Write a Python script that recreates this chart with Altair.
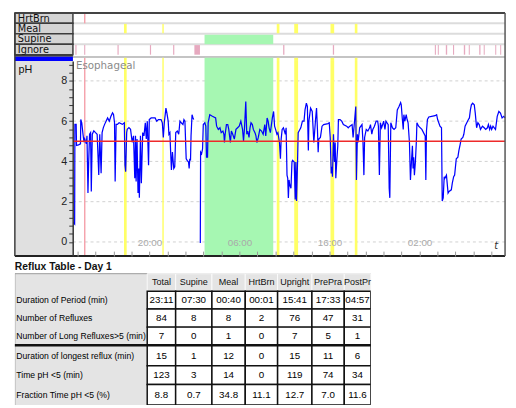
import altair as alt
import pandas as pd

# ---------------- data ----------------
# oesophageal pH trace: time in hours after 12:00 of the first day, pH value
PH_T = [
    -0.47, -0.31, -0.28, -0.14, -0.10, 0.12, 0.34, 0.37, 0.48, 0.62,
    0.73, 0.81, 0.99, 1.06, 1.17, 1.25, 1.35, 1.46, 1.54, 1.65,
    1.82, 2.01, 2.19, 2.37, 2.48, 2.63, 2.74, 2.88, 3.02, 3.18,
    3.35, 3.54, 3.72, 3.90, 4.01, 4.12, 4.19, 4.30, 4.44, 4.63,
    4.99, 5.21, 5.28, 5.36, 5.47, 5.53, 5.72, 5.90, 6.08, 6.23,
    6.37, 6.45, 6.52, 6.62, 6.73, 6.81, 6.88, 7.00, 7.10, 7.25,
    7.39, 7.54, 7.65, 7.76, 7.90, 7.98, 8.19, 8.63, 8.81, 8.99,
    9.29, 9.43, 9.54, 9.65, 9.83, 9.94, 10.08, 10.16, 10.27, 10.37,
    10.44, 10.55, 10.70, 10.81, 10.92, 11.10, 11.25, 11.39, 11.53, 11.72,
    11.83, 11.94, 12.08, 12.19, 12.34, 12.41, 12.48, 12.56, 12.62, 12.73,
    12.84, 12.92, 13.65, 13.68, 13.79, 13.90, 13.98, 14.15, 14.26, 14.34,
    14.45, 14.52, 14.70, 14.99, 15.35, 15.46, 15.65, 15.83, 15.97, 16.16,
    16.27, 16.33, 16.41, 16.55, 16.70, 16.81, 16.99, 17.10, 17.25, 17.43,
    17.61, 17.79, 17.97, 18.15, 18.34, 18.45, 18.56, 18.70, 18.81, 18.92,
    19.06, 19.17, 19.28, 19.43, 19.54, 19.72, 19.83, 19.93, 20.09, 20.26,
    20.45, 20.63, 20.81, 20.92, 21.07, 21.18, 21.29, 21.43, 21.65, 21.79,
    21.90, 22.01, 22.16, 22.27, 22.44, 22.55, 22.63, 22.74, 22.88, 23.10,
    23.18, 23.28, 23.36, 23.43, 23.51, 23.58, 23.72, 23.83, 23.90, 24.08,
    24.19, 24.26, 24.34, 24.45, 24.52, 24.62, 24.81, 24.99, 25.17, 25.28,
    25.43, 25.54, 25.65, 25.71, 25.90, 26.08, 26.26, 26.45, 26.56, 26.66,
    26.74, 26.81, 26.99, 27.17, 27.35, 27.83, 27.97, 28.08, 28.19, 28.27,
    28.33, 28.44, 28.55, 28.63, 28.70, 28.81, 28.92, 28.99, 29.17, 29.36,
    29.54, 29.90, 30.08, 30.26, 30.51, 30.62, 30.73, 30.92, 30.99, 31.10,
    31.17, 31.35, 31.61, 31.72, 31.82, 31.90, 32.08, 32.26, 32.45, 32.55,
    32.70, 32.81, 32.99, 33.18, 33.35, 33.43, 33.54, 33.65, 33.79, 33.90,
    34.01, 34.16, 34.27, 34.52, 34.63, 34.70, 34.81, 34.99, 35.17, 35.36,
    35.53, 35.72, 35.90, 35.97, 36.08, 36.19, 36.26, 36.37, 36.52, 36.62,
    36.73, 36.88, 36.99, 37.10, 37.21, 37.28, 37.35, 37.43, 37.54, 37.65,
    37.71, 37.90, 38.26, 38.63, 38.70, 38.77, 38.88, 39.03, 39.35, 39.72,
    39.90, 40.01, 40.27, 40.44, 40.52, 40.63, 40.74, 40.81, 40.99, 41.17,
    41.28, 41.53, 41.64, 41.79, 41.90, 42.08, 42.26, 42.37, 42.52, 42.62,
    42.81, 42.92, 43.06, 43.25, 43.43, 43.54, 43.65, 43.76, 43.90, 44.08,
    44.19, 44.34, 44.48, 44.63, 44.77, 44.99, 45.18, 45.35, 45.54, 45.65,
    45.79, 45.90, 46.01, 46.16, 46.30, 46.44, 46.63, 46.81, 46.99, 47.17,
    47.36, 47.50,
]
PH_V = [
    0.97, 0.89, 5.84, 5.84, 4.79, 4.82, 4.87, 6.08, 5.92, 5.35,
    4.95, 5.11, 4.87, 5.27, 2.43, 3.97, 5.35, 5.43, 2.51, 5.35,
    5.52, 5.43, 5.35, 3.33, 5.35, 3.41, 5.43, 5.68, 5.84, 6.00,
    6.16, 6.00, 6.24, 6.41, 6.33, 5.92, 3.00, 5.84, 5.84, 5.92,
    5.84, 5.92, 3.81, 3.49, 5.43, 5.60, 5.68, 5.60, 4.95, 5.27,
    3.16, 5.27, 3.00, 5.11, 2.43, 3.65, 2.19, 5.27, 2.92, 5.43,
    5.27, 5.92, 5.11, 6.00, 3.81, 6.08, 6.16, 6.16, 6.00, 6.08,
    6.08, 5.92, 5.19, 5.92, 6.65, 6.40, 6.00, 5.35, 5.43, 4.29,
    3.57, 4.46, 3.65, 3.73, 5.43, 5.51, 5.35, 6.00, 5.92, 5.83,
    6.08, 6.00, 4.13, 4.05, 3.97, 3.65, 4.13, 4.05, 5.27, 6.32,
    6.16, 6.08, -0.05, 4.46, 4.38, 4.62, 5.83, 5.92, 5.75, 4.21,
    4.21, 5.92, 6.32, 6.24, 6.16, 5.75, 5.59, 5.67, 5.43, 5.51,
    5.35, 4.94, 5.35, 5.83, 5.83, 5.59, 4.94, 5.51, 5.35, 5.11,
    5.59, 5.67, 5.75, 6.00, 5.59, 5.02, 5.67, 6.97, 5.35, 5.51,
    5.19, 5.67, 5.92, 5.83, 5.59, 5.43, 5.27, 4.94, 5.19, 5.59,
    5.51, 5.35, 5.83, 5.27, 6.16, 6.00, 5.67, 5.43, 6.16, 6.48,
    5.75, 5.59, 5.35, 5.43, 4.94, 4.13, 5.11, 5.59, 5.67, 5.35,
    5.67, 3.32, 3.16, 2.19, 3.08, 2.84, 2.67, 3.97, 4.05, 3.97,
    2.11, 3.97, 2.03, 3.97, 5.43, 5.51, 5.67, 6.00, 6.00, 6.56,
    6.89, 6.73, 4.54, 6.00, 6.65, 6.48, 4.94, 6.08, 6.65, 5.59,
    4.46, 5.11, 5.19, 5.75, 5.83, 5.88, 5.92, 5.19, 3.40, 3.73,
    3.24, 5.35, 3.97, 4.94, 3.16, 4.05, 4.78, 6.08, 6.08, 6.00,
    5.83, 5.75, 5.67, 5.75, 5.83, 5.19, 5.75, 6.73, 3.08, 5.35,
    4.94, 5.67, 5.83, 4.94, 3.32, 5.19, 5.59, 5.51, 5.67, 5.83,
    5.35, 5.59, 5.75, 6.00, 6.00, 5.75, 3.32, 5.92, 5.67, 5.83,
    6.00, 5.59, 6.00, 5.83, 2.67, 2.19, 5.92, 5.67, 5.59, 5.67,
    6.56, 6.73, 6.92, 6.81, 6.16, 5.59, 6.32, 6.00, 6.32, 6.08,
    5.92, 4.94, 3.08, 3.97, 4.78, 3.65, 4.21, 3.32, 3.97, 5.02,
    5.92, 5.75, 5.59, 5.27, 3.08, 5.51, 6.08, 6.21, 6.24, 6.27,
    6.32, 6.08, 5.75, 5.67, 2.03, 2.19, 3.24, 3.16, 3.32, 2.43,
    2.51, 2.59, 2.92, 3.24, 3.32, 4.13, 4.21, 4.54, 4.86, 5.11,
    5.19, 5.35, 5.75, 5.92, 6.08, 6.16, 6.56, 6.81, 6.89, 6.81,
    6.40, 5.67, 5.92, 5.83, 5.59, 5.75, 5.67, 5.59, 5.67, 5.83,
    5.59, 5.75, 5.59, 5.75, 5.67, 5.59, 6.24, 6.48, 6.40, 6.16,
    6.24, 6.16,
]
TRACE_BREAK = 13.3          # recording interrupted (ignored period)

MEAL_START = [5.17, 9.43, 22.14, 24.08, 28.11, 30.81]
MEAL_END = [5.47, 9.59, 22.44, 24.51, 28.52, 31.10]
SUPINE_START = [14.12]
SUPINE_END = [21.75]
HRTBRN_T = [0.81]
IGNORE_START = [-0.23, 0.75, 4.45, 8.05, 10.63, 12.99, 22.85, 28.37, 39.70,
                40.03, 40.92, 41.72, 42.92, 43.47, 44.63, 45.13, 46.41, 46.96]
IGNORE_END = [-0.10, 0.87, 4.58, 8.18, 10.76, 13.61, 22.99, 28.51, 39.82,
              40.14, 41.07, 41.84, 43.07, 43.58, 44.77, 45.24, 46.52, 47.07]

TRACK_NAMES = ["HrtBrn", "Meal", "Supine", "Ignore"]
PH_TICKS = [round(0.4 * i, 1) for i in range(23)]
PH_GRID = [0, 2, 4, 6, 8]
REFLUX_LIMIT = 5
TIME_TICKS = list(range(0, 48, 2))

TABLE_TITLE = "Reflux Table - Day 1"
TABLE_COLS = ["Total", "Supine", "Meal", "HrtBrn", "Upright", "PrePra", "PostPr"]
TABLE_ROWS = ["Duration of Period (min)", "Number of Refluxes",
              "Number of Long Refluxes>5  (min)", "Duration of longest reflux (min)",
              "Time pH <5  (min)", "Fraction Time pH <5  (%)"]
ROW_DURATION = ["23:11", "07:30", "00:40", "00:01", "15:41", "17:33", "04:57"]
ROW_REFLUXES = ["84", "8", "8", "2", "76", "47", "31"]
ROW_LONG = ["7", "0", "1", "0", "7", "5", "1"]
ROW_LONGEST = ["15", "1", "12", "0", "15", "11", "6"]
ROW_TIME = ["123", "3", "14", "0", "119", "74", "34"]
ROW_FRACTION = ["8.8", "0.7", "34.8", "11.1", "12.7", "7.0", "11.6"]
TABLE_VALUES = [ROW_DURATION, ROW_REFLUXES, ROW_LONG, ROW_LONGEST, ROW_TIME, ROW_FRACTION]

# ---------------- layout / style ----------------
W = 500
H_TR, H_PH, H_TB = 49, 199, 152
X0, T0, T1 = -6.95, -0.5, 47.5          # label column, then 48 h of recording
GREEN, YELLOW, PINK, IGN = "#a6f7b2", "#ffff66", "#f5a3ad", "#e6a9bf"
LABEL_GRAY, COL_GRAY = "#d4d4d4", "#e0e0e0"
TFONT = "Liberation Sans Narrow, Arial Narrow, Liberation Sans, Arial, sans-serif"
COL_EDGES = [0, 135, 164, 201, 235, 268, 303, 336, 363]
ROW_EDGES = [18, 36, 54, 72.5, 91, 112, 131, 152]

xsc = alt.Scale(domain=[X0, T1], nice=False, zero=False)
ytr = alt.Scale(domain=[0, 4.6], reverse=True, nice=False, zero=False)
yph = alt.Scale(domain=[-0.70, 8.99], nice=False, zero=False)

y_axis = alt.Axis(orient="left", offset=-59, values=PH_TICKS,
                  labelExpr="datum.value % 2 == 0 ? format(datum.value, 'd') : ''",
                  tickSize=4, tickColor="#333", domainColor="#333", domainWidth=1.5,
                  labelFont="Liberation Sans", labelFontSize=11, labelColor="#222",
                  labelPadding=2, grid=False, title=None, zindex=1,
                  labelOverlap=False, labelFlush=False)
x_axis = alt.Axis(orient="top", offset=-H_PH, values=TIME_TICKS,
                  labelExpr="(datum.value - 8) % 10 == 0 ? (((datum.value + 12) % 24) < 10 ? '0' : '') + ((datum.value + 12) % 24) + ':00' : ''",
                  tickSize=5, tickColor="#999", domain=False, labelColor="#aaaaaa",
                  labelFont="Liberation Sans", labelFontSize=10, labelPadding=4,
                  grid=False, title=None, zindex=1, labelOverlap=False, labelFlush=False)


def xq(f):
    return alt.X(f, type="quantitative", scale=xsc, axis=None)


def ytq(f):
    return alt.Y(f, type="quantitative", scale=ytr, axis=None)


# every layer of the pH panel carries the same axis definition (so they merge)
def xp(f):
    return alt.X(f, type="quantitative", scale=xsc, axis=x_axis)


def yp(f):
    return alt.Y(f, type="quantitative", scale=yph, axis=y_axis)


meal = pd.DataFrame({"t0": MEAL_START, "t1": MEAL_END})
sup = pd.DataFrame({"t0": SUPINE_START, "t1": SUPINE_END})
ign = pd.DataFrame({"t0": IGNORE_START, "t1": IGNORE_END})
hb = pd.DataFrame({"t": HRTBRN_T})


def track_band(df, color, y0, y1):
    return alt.Chart(df.assign(y0=y0, y1=y1)).mark_rect(color=color).encode(
        x=xq("t0"), x2="t1", y=ytq("y0"), y2="y1")


# ---------------- event tracks ----------------
row_lines = alt.Chart(pd.DataFrame({"y": [1, 2, 3], "t0": T0, "t1": T1})).mark_rule(
    color="#dcdcdc", strokeWidth=2).encode(x=xq("t0"), x2="t1", y=ytq("y"))
plot_top = alt.Chart(pd.DataFrame({"y": [4.22], "t0": T0, "t1": T1})).mark_rule(
    color="#c4c4c4", strokeWidth=2).encode(x=xq("t0"), x2="t1", y=ytq("y"))
hb_tr = alt.Chart(hb.assign(y0=0, y1=1)).mark_rule(color=PINK, strokeWidth=1.5).encode(
    x=xq("t"), y=ytq("y0"), y2="y1")
hb_tr2 = alt.Chart(hb.assign(y0=4.3, y1=4.6)).mark_rule(color=PINK, strokeWidth=1.5).encode(
    x=xq("t"), y=ytq("y0"), y2="y1")

lab = pd.DataFrame({"name": TRACK_NAMES, "y0": [0, 1, 2, 3], "y1": [1, 2, 3, 4]})
lab["ym"] = lab["y0"] + 0.55
lab["x0"] = X0
lab["x1"] = T0
lab_cells = alt.Chart(lab).mark_rect(fill=LABEL_GRAY, stroke="#3c3c3c", strokeWidth=1.5).encode(
    x=xq("x0"), x2="x1", y=ytq("y0"), y2="y1")
lab_text = alt.Chart(lab).mark_text(align="left", baseline="middle", font="DejaVu Sans",
                                    fontSize=10, color="#111", dx=3).encode(
    x=xq("x0"), y=ytq("ym"), text="name")
strip = pd.DataFrame({"x0": [X0, X0], "x1": [T0, T0], "y0": [4.0, 4.2], "y1": [4.2, 4.6],
                      "c": ["#3c3c3c", "#0000ff"]})
strips = alt.Chart(strip).mark_rect().encode(
    x=xq("x0"), x2="x1", y=ytq("y0"), y2="y1", color=alt.Color("c:N", scale=None))
top_frame = alt.Chart(pd.DataFrame({"y": [0], "x0": X0, "x1": T1})).mark_rule(
    color="#444", strokeWidth=2).encode(x=xq("x0"), x2="x1", y=ytq("y"))
side_tr = alt.Chart(pd.DataFrame({"x": [X0, T1], "y0": 0, "y1": 4.6,
                                  "c": ["#3c3c3c", "#555555"]})).mark_rule(strokeWidth=1.5).encode(
    x=xq("x"), y=ytq("y0"), y2="y1", color=alt.Color("c:N", scale=None))

tracks = alt.layer(
    row_lines, plot_top,
    track_band(meal, YELLOW, 1.05, 1.95), track_band(meal, YELLOW, 4.3, 4.6),
    track_band(sup, GREEN, 2.08, 3.0), track_band(sup, GREEN, 4.3, 4.6),
    track_band(ign, IGN, 3.08, 4.0),
    hb_tr, hb_tr2,
    lab_cells, lab_text, strips, top_frame, side_tr,
).properties(width=W, height=H_TR)

# ---------------- pH plot ----------------
trace = pd.DataFrame(list(zip(PH_T, PH_V)), columns=["t", "ph"])
trace["seg"] = (trace["t"] > TRACE_BREAK).astype(int)

grid = alt.Chart(pd.DataFrame({"v": PH_GRID, "t0": T0, "t1": T1})).mark_rule(
    color="#d0d0d0", strokeDash=[3, 3], strokeWidth=1).encode(x=xp("t0"), x2="t1", y=yp("v"))
green_band = alt.Chart(sup).mark_rect(color=GREEN).encode(x=xp("t0"), x2="t1")
meal_band = alt.Chart(meal).mark_rect(color=YELLOW).encode(x=xp("t0"), x2="t1")
hb_line = alt.Chart(hb).mark_rule(color=PINK, strokeWidth=1.5).encode(x=xp("t"))
ph_line = alt.Chart(trace).mark_line(color="#0000ff", strokeWidth=1.25).encode(
    x=xp("t"), y=yp("ph"), detail="seg:N")
limit = alt.Chart(pd.DataFrame({"v": [REFLUX_LIMIT], "t0": T0, "t1": T1})).mark_rule(
    color="#ee2a2a", strokeWidth=1.5).encode(x=xp("t0"), x2="t1", y=yp("v"))
gray_col = alt.Chart(pd.DataFrame({"x0": [X0], "x1": [T0]})).mark_rect(color=COL_GRAY).encode(
    x=xp("x0"), x2="x1")
texts = pd.DataFrame({"x": [X0 + 0.4, -0.17], "y": [8.55, 8.74], "s": ["pH", "Esophageal"],
                      "c": ["#111111", "#8a8a8a"]})
ph_text = alt.Chart(texts.iloc[[0]]).mark_text(align="left", baseline="middle",
                                               font="Liberation Sans", fontSize=11).encode(
    x=xp("x"), y=yp("y"), text="s", color=alt.Color("c:N", scale=None))
eso_text = alt.Chart(texts.iloc[[1]]).mark_text(align="left", baseline="middle",
                                                font="DejaVu Sans", fontSize=10.5).encode(
    x=xp("x"), y=yp("y"), text="s", color=alt.Color("c:N", scale=None))
t_mark = alt.Chart(pd.DataFrame({"x": [46.5], "y": [-0.2], "s": ["t"]})).mark_text(
    font="DejaVu Sans", fontSize=10, fontStyle="italic", color="#333").encode(
    x=xp("x"), y=yp("y"), text="s")
bottom = alt.Chart(pd.DataFrame({"v": [-0.70], "x0": X0, "x1": T1})).mark_rule(
    color="#222", strokeWidth=2).encode(x=xp("x0"), x2="x1", y=yp("v"))
sides = alt.Chart(pd.DataFrame({"x": [X0, T1], "c": ["#3c3c3c", "#555555"]})).mark_rule(
    strokeWidth=1.5).encode(x=xp("x"), color=alt.Color("c:N", scale=None))

ph_chart = alt.layer(
    grid, green_band, meal_band, hb_line, ph_line, limit, gray_col,
    ph_text, eso_text, t_mark, bottom, sides,
).properties(width=W, height=H_PH)

# ---------------- reflux table ----------------
tx = alt.Scale(domain=[0, COL_EDGES[-1]], nice=False, zero=False)
ty = alt.Scale(domain=[0, H_TB], reverse=True, nice=False, zero=False)


def txq(f):
    return alt.X(f, type="quantitative", scale=tx, axis=None)


def tyq(f):
    return alt.Y(f, type="quantitative", scale=ty, axis=None)


bg = pd.DataFrame({"x0": [0], "x1": [COL_EDGES[-1]], "y0": [ROW_EDGES[0]], "y1": [H_TB + 10]})
tb_bg = alt.Chart(bg).mark_rect(fill="#e4e4e4", stroke="#9a9a9a", strokeWidth=1, clip=True).encode(
    x=txq("x0"), x2="x1", y=tyq("y0"), y2="y1")

hdr = pd.DataFrame({"name": TABLE_COLS,
                    "x0": COL_EDGES[1:-1], "x1": COL_EDGES[2:]})
hdr["xm"] = (hdr["x0"] + hdr["x1"]) / 2
hdr["y0"] = ROW_EDGES[0]
hdr["y1"] = ROW_EDGES[1]
hdr["ym"] = (ROW_EDGES[0] + ROW_EDGES[1]) / 2
hdr_cells = alt.Chart(hdr).mark_rect(fill="#e4e4e4", stroke="#fafafa", strokeWidth=1).encode(
    x=txq("x0"), x2="x1", y=tyq("y0"), y2="y1")
hdr_text = alt.Chart(hdr).mark_text(baseline="middle", font=TFONT, fontSize=9.2, color="#111").encode(
    x=txq("xm"), y=tyq("ym"), text="name")

recs = []
for i, (rname, vals) in enumerate(zip(TABLE_ROWS, TABLE_VALUES)):
    for j, v in enumerate(vals):
        recs.append({"v": v, "x0": COL_EDGES[j + 1], "x1": COL_EDGES[j + 2],
                     "y0": ROW_EDGES[i + 1], "y1": ROW_EDGES[i + 2]})
cells = pd.DataFrame(recs)
cells["xm"] = (cells["x0"] + cells["x1"]) / 2
cells["ym"] = (cells["y0"] + cells["y1"]) / 2
cell_rect = alt.Chart(cells).mark_rect(fill="white", stroke="#111", strokeWidth=1.5, clip=True).encode(
    x=txq("x0"), x2="x1", y=tyq("y0"), y2="y1")
cell_text = alt.Chart(cells).mark_text(baseline="middle", font=TFONT, fontSize=10, color="#000").encode(
    x=txq("xm"), y=tyq("ym"), text="v")

rl = pd.DataFrame({"name": TABLE_ROWS,
                   "ym": [(ROW_EDGES[i + 1] + ROW_EDGES[i + 2]) / 2 for i in range(len(TABLE_ROWS))],
                   "x": 0})
row_text = alt.Chart(rl).mark_text(align="left", baseline="middle", font=TFONT, fontSize=8.8,
                                   color="#000", dx=1.5).encode(x=txq("x"), y=tyq("ym"), text="name")
sep = alt.Chart(pd.DataFrame({"y": [ROW_EDGES[4]], "x0": 0, "x1": COL_EDGES[-1]})).mark_rule(
    color="#111", strokeWidth=2.5).encode(x=txq("x0"), x2="x1", y=tyq("y"))
title = alt.Chart(pd.DataFrame({"x": [0], "y": [11], "s": [TABLE_TITLE]})).mark_text(
    align="left", baseline="middle", font=TFONT, fontSize=10.5, fontWeight="bold", color="#111").encode(
    x=txq("x"), y=tyq("y"), text="s")

table = alt.layer(tb_bg, hdr_cells, hdr_text, cell_rect, cell_text, row_text, sep, title).properties(
    width=COL_EDGES[-1], height=H_TB)

chart = alt.vconcat(tracks, ph_chart, table, spacing=0, bounds="flush").properties(
    padding={"left": 5, "top": 0, "right": 0, "bottom": 0},
    background="white",
).configure_view(stroke=None)

chart.save("out.html", embed_options={"renderer": "svg", "actions": False})
